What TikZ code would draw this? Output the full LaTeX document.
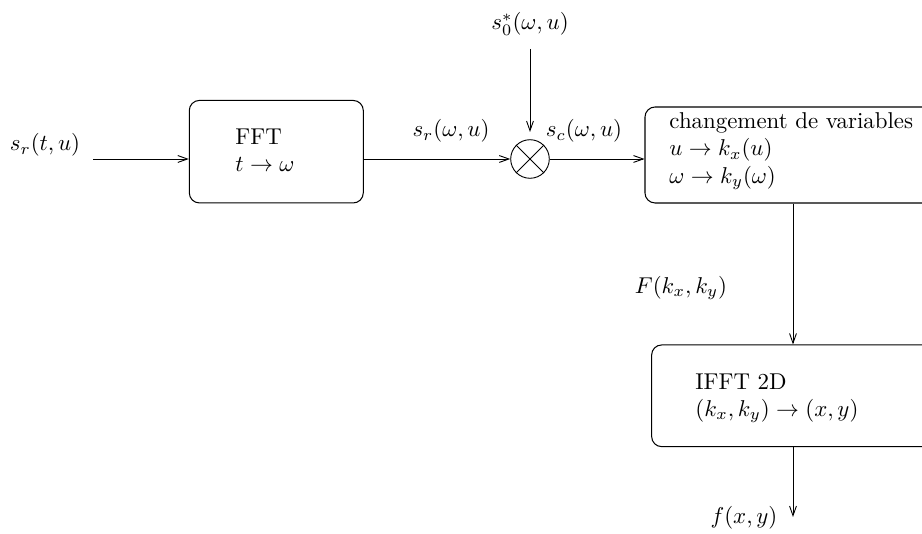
\documentclass[tikz,border=0pt]{standalone}
\usetikzlibrary{arrows.meta}
\def\pxu{0.437pt}
\begin{document}
\begin{tikzpicture}[x=0.437pt,y=-0.437pt,
  every node/.style={inner sep=0pt},
  box/.style={draw, rounded corners=4.4pt, line width=0.45pt, inner sep=0pt},
  arr/.style={-{Straight Barb[length=4.2pt,width=3pt,line width=0.4pt]}, line width=0.4pt},
  txt/.style={anchor=north west, align=left, inner sep=0pt}]
\useasboundingbox (0,0) rectangle (922,534);
% levels
\coordinate (lev) at (0,159);
\coordinate (col) at (793,0);
% labels
\node (sin) at (45,145) {$s_r(t,u)$};
\node (s0) at (530,24) {$s_0^*(\omega,u)$};
\node (srw) at (451,131) {$s_r(\omega,u)$};
\node (scw) at (584,131) {$s_c(\omega,u)$};
\node (Fk) at (681,288) {$F(k_x,k_y)$};
\node (fxy) at (744,518) {$f(x,y)$};
% boxes
\node[box, minimum width=174*\pxu, minimum height=102.5*\pxu] (fft) at (276.3,151.7) {};
\node[txt] (fftt) at (235,128) {FFT\\$t\to\omega$};
\node[box, minimum width=315*\pxu, minimum height=96*\pxu] (ch) at (802.5,155) {};
\node[txt] (cht) at (669,112) {changement de variables\\$u\to k_x(u)$\\$\omega\to k_y(\omega)$};
\node[box, minimum width=308.3*\pxu, minimum height=101.7*\pxu] (ifft) at (805.8,395.8) {};
\node[txt] (ifftt) at (695,373) {IFFT 2D\\$(k_x,k_y)\to(x,y)$};
% multiplier
\node[circle, draw, line width=0.4pt, minimum size=38.6*\pxu] (mul) at (530,159) {};
\draw[line width=0.4pt] (mul.north west) -- (mul.south east) (mul.north east) -- (mul.south west);
% connectors
\coordinate (in0) at (93,159);
\coordinate (s0a) at (530,49);
\coordinate (s0b) at (530,132);
\coordinate (out) at (793,517);
\draw[arr] (in0) -- (in0 -| fft.west);
\draw[arr] (fft.east |- lev) -- (mul.west);
\draw[arr] (s0a) -- (s0b);
\draw[arr] (mul.east) -- (ch.west |- lev);
\draw[arr] (ch.south -| col) -- (ifft.north -| col);
\draw[arr] (ifft.south -| col) -- (out);
\end{tikzpicture}
\end{document}
